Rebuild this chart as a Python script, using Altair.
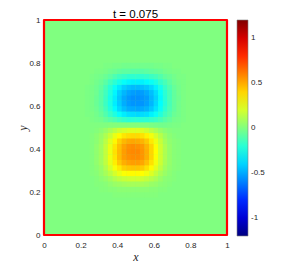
import altair as alt
import pandas as pd

title_text = "t = 0.075"
x_ticks = [0, 0.2, 0.4, 0.6, 0.8, 1]
y_ticks = [0, 0.2, 0.4, 0.6, 0.8, 1]
bar_ticks = [-1, -0.5, 0, 0.5, 1]

# cell centres of the sampled field (step 0.025); outside this block the field is 0
x_centers = [0.2375, 0.2625, 0.2875, 0.3125, 0.3375, 0.3625, 0.3875, 0.4125, 0.4375, 0.4625, 0.4875,
             0.5125, 0.5375, 0.5625, 0.5875, 0.6125, 0.6375, 0.6625, 0.6875, 0.7125, 0.7375, 0.7625]
y_centers = [0.1875, 0.2125, 0.2375, 0.2625, 0.2875, 0.3125, 0.3375, 0.3625, 0.3875, 0.4125, 0.4375,
             0.4625, 0.4875, 0.5125, 0.5375, 0.5625, 0.5875, 0.6125, 0.6375, 0.6625, 0.6875, 0.7125,
             0.7375, 0.7625, 0.7875]
cell_half = 0.0135  # half step plus a hair of overlap so no seams show

field_rows = [
    [0, 0, 0, 0, 0, 0, 0.01, 0.01, 0.01, 0.01, 0.01, 0.01, 0.01, 0.01, 0.01, 0.01, 0, 0, 0, 0, 0, 0],
    [0, 0, 0, 0.01, 0.01, 0.02, 0.02, 0.03, 0.03, 0.03, 0.03, 0.03, 0.03, 0.03, 0.02, 0.02, 0.01, 0.01, 0, 0, 0, 0],
    [0, 0, 0.01, 0.01, 0.02, 0.04, 0.06, 0.07, 0.08, 0.09, 0.09, 0.09, 0.09, 0.08, 0.06, 0.05, 0.03, 0.02, 0.01, 0, 0, 0],
    [0, 0, 0.01, 0.03, 0.05, 0.08, 0.12, 0.15, 0.17, 0.18, 0.19, 0.19, 0.18, 0.16, 0.13, 0.10, 0.06, 0.03, 0.02, 0.01, 0, 0],
    [0, 0.01, 0.02, 0.05, 0.09, 0.14, 0.20, 0.25, 0.29, 0.31, 0.31, 0.31, 0.30, 0.27, 0.22, 0.16, 0.10, 0.06, 0.03, 0.01, 0, 0],
    [0, 0.01, 0.03, 0.06, 0.12, 0.20, 0.28, 0.35, 0.41, 0.43, 0.44, 0.44, 0.42, 0.37, 0.31, 0.23, 0.15, 0.08, 0.04, 0.02, 0.01, 0],
    [0, 0.01, 0.04, 0.08, 0.15, 0.24, 0.34, 0.43, 0.49, 0.52, 0.53, 0.53, 0.51, 0.45, 0.37, 0.27, 0.18, 0.10, 0.05, 0.02, 0.01, 0],
    [0, 0.01, 0.04, 0.08, 0.16, 0.26, 0.36, 0.46, 0.53, 0.56, 0.57, 0.57, 0.55, 0.49, 0.40, 0.29, 0.19, 0.11, 0.05, 0.02, 0.01, 0],
    [0, 0.01, 0.04, 0.08, 0.16, 0.26, 0.37, 0.46, 0.53, 0.57, 0.58, 0.58, 0.55, 0.49, 0.40, 0.30, 0.19, 0.11, 0.05, 0.02, 0.01, 0],
    [0, 0.01, 0.04, 0.08, 0.16, 0.25, 0.36, 0.45, 0.52, 0.56, 0.57, 0.56, 0.54, 0.48, 0.40, 0.29, 0.19, 0.11, 0.05, 0.02, 0.01, 0],
    [0, 0.01, 0.03, 0.07, 0.14, 0.23, 0.32, 0.41, 0.47, 0.50, 0.51, 0.50, 0.48, 0.43, 0.35, 0.26, 0.17, 0.09, 0.04, 0.02, 0.01, 0],
    [0, 0.01, 0.03, 0.06, 0.11, 0.17, 0.25, 0.31, 0.36, 0.38, 0.39, 0.39, 0.37, 0.33, 0.27, 0.20, 0.13, 0.07, 0.03, 0.01, 0, 0],
    [0, 0, 0.01, 0.03, 0.06, 0.10, 0.14, 0.18, 0.20, 0.22, 0.22, 0.22, 0.21, 0.18, 0.14, 0.10, 0.06, 0.03, 0.01, 0, 0, 0],
    [0, 0, 0, 0, 0, 0.01, 0.01, 0.01, 0.01, 0.01, 0.01, 0.01, 0, 0, -0.01, -0.02, -0.03, -0.03, -0.02, -0.01, -0.01, 0],
    [0, -0.01, -0.02, -0.03, -0.06, -0.09, -0.12, -0.15, -0.18, -0.20, -0.20, -0.20, -0.20, -0.20, -0.18, -0.16, -0.13, -0.09, -0.06, -0.03, -0.02, -0.01],
    [-0.01, -0.01, -0.03, -0.06, -0.11, -0.17, -0.23, -0.29, -0.34, -0.37, -0.38, -0.39, -0.38, -0.37, -0.33, -0.28, -0.22, -0.15, -0.10, -0.05, -0.03, -0.01],
    [-0.01, -0.02, -0.04, -0.08, -0.14, -0.22, -0.31, -0.39, -0.45, -0.49, -0.50, -0.51, -0.50, -0.48, -0.43, -0.36, -0.28, -0.19, -0.12, -0.07, -0.03, -0.01],
    [-0.01, -0.02, -0.05, -0.09, -0.16, -0.24, -0.34, -0.42, -0.49, -0.53, -0.55, -0.55, -0.55, -0.52, -0.47, -0.39, -0.30, -0.21, -0.13, -0.07, -0.03, -0.01],
    [-0.01, -0.02, -0.05, -0.09, -0.16, -0.25, -0.34, -0.43, -0.50, -0.54, -0.56, -0.56, -0.55, -0.53, -0.47, -0.40, -0.31, -0.21, -0.13, -0.07, -0.04, -0.01],
    [-0.01, -0.02, -0.04, -0.09, -0.15, -0.23, -0.32, -0.41, -0.47, -0.51, -0.53, -0.54, -0.53, -0.50, -0.45, -0.38, -0.29, -0.20, -0.13, -0.07, -0.03, -0.01],
    [-0.01, -0.02, -0.04, -0.07, -0.13, -0.20, -0.28, -0.35, -0.41, -0.44, -0.46, -0.46, -0.45, -0.43, -0.39, -0.33, -0.25, -0.17, -0.11, -0.06, -0.03, -0.01],
    [0, -0.01, -0.03, -0.05, -0.09, -0.15, -0.20, -0.25, -0.29, -0.32, -0.33, -0.33, -0.33, -0.31, -0.28, -0.24, -0.18, -0.13, -0.08, -0.04, -0.02, -0.01],
    [0, -0.01, -0.02, -0.03, -0.05, -0.08, -0.12, -0.15, -0.17, -0.19, -0.19, -0.19, -0.19, -0.18, -0.16, -0.14, -0.11, -0.07, -0.05, -0.03, -0.01, -0.01],
    [0, 0, -0.01, -0.01, -0.02, -0.04, -0.05, -0.07, -0.08, -0.08, -0.09, -0.09, -0.09, -0.08, -0.07, -0.06, -0.05, -0.03, -0.02, -0.01, -0.01, 0],
    [0, 0, 0, 0, -0.01, -0.01, -0.02, -0.02, -0.03, -0.03, -0.03, -0.03, -0.03, -0.03, -0.03, -0.02, -0.02, -0.01, -0.01, 0, 0, 0],
]

frame_x = [0.0, 1.0]
frame_y = [0.0, 1.0]
background_value = [0.0]

jet_domain = [-1.2, -0.9, -0.3, 0.3, 0.9, 1.2]
jet_colors = ["#000080", "#0000ff", "#00ffff", "#ffff00", "#ff0000", "#800000"]

records = []
for yc, row in zip(y_centers, field_rows):
    for xc, w in zip(x_centers, row):
        records.append({"x0": xc - cell_half, "x1": xc + cell_half,
                        "y0": yc - cell_half, "y1": yc + cell_half, "w": w})
cells = pd.DataFrame(records)
frame_df = pd.DataFrame({"x0": [frame_x[0]], "x1": [frame_x[1]],
                         "y0": [frame_y[0]], "y1": [frame_y[1]],
                         "w": background_value})

label_font = "Liberation Sans"
text_color = "#262626"

xs = alt.Scale(domain=frame_x, nice=False, zero=False)
ys = alt.Scale(domain=frame_y, nice=False, zero=False)
cs = alt.Scale(domain=jet_domain, range=jet_colors, interpolate="rgb")

x_axis = alt.Axis(values=x_ticks, format="~g", labelFont=label_font, labelFontSize=8,
                  labelColor=text_color, ticks=False, domain=False, grid=False,
                  labelPadding=6, labelFlush=False, labelOverlap=False, title="x",
                  titleFont="Liberation Serif", titleFontStyle="italic",
                  titleFontWeight="normal", titleFontSize=12, titleColor=text_color,
                  titlePadding=2)
y_axis = alt.Axis(values=y_ticks, format="~g", labelFont=label_font, labelFontSize=8,
                  labelColor=text_color, ticks=False, domain=False, grid=False,
                  labelPadding=4, labelFlush=False, labelOverlap=False, title="y",
                  titleFont="Liberation Serif", titleFontStyle="italic",
                  titleFontWeight="normal", titleFontSize=12, titleColor=text_color,
                  titleX=-14.5, titleY=107.5)

legend = alt.Legend(
    type="gradient", title=None, orient="none", legendX=193, legendY=0,
    direction="vertical", gradientLength=216, gradientThickness=11, values=bar_ticks,
    labelExpr="datum.value + ''", labelFont=label_font, labelFontSize=8,
    labelColor=text_color, labelOffset=3, labelOverlap=False,
    gradientStrokeColor="#7f7f7f", gradientStrokeWidth=0.6, padding=0)

background = alt.Chart(frame_df).mark_rect().encode(
    x=alt.X("x0:Q", scale=xs, axis=x_axis),
    x2="x1:Q",
    y=alt.Y("y0:Q", scale=ys, axis=y_axis),
    y2="y1:Q",
    color=alt.Color("w:Q", scale=cs, legend=legend),
)

heat = alt.Chart(cells).mark_rect().encode(
    x=alt.X("x0:Q", scale=xs, axis=x_axis),
    x2="x1:Q",
    y=alt.Y("y0:Q", scale=ys, axis=y_axis),
    y2="y1:Q",
    color=alt.Color("w:Q", scale=cs, legend=legend),
)

frame = alt.Chart(frame_df).mark_rect(fillOpacity=0, stroke="#ff0000", strokeWidth=2.2,
                                      strokeJoin="round").encode(
    x=alt.X("x0:Q", scale=xs, axis=x_axis),
    x2="x1:Q",
    y=alt.Y("y0:Q", scale=ys, axis=y_axis),
    y2="y1:Q",
)

chart = alt.layer(background, heat, frame).properties(
    width=183, height=215,
    autosize="none",
    padding={"left": 36, "top": 12, "right": 60, "bottom": 32},
    title=alt.Title(title_text, font=label_font, fontSize=11.5, fontWeight="normal",
                    color="#000000", offset=3, dy=7, anchor="middle"),
).configure_view(stroke=None).configure_axis(labelOverlap=False).configure(background="white")

chart.save("out.html", embed_options={"renderer": "svg", "actions": False})
